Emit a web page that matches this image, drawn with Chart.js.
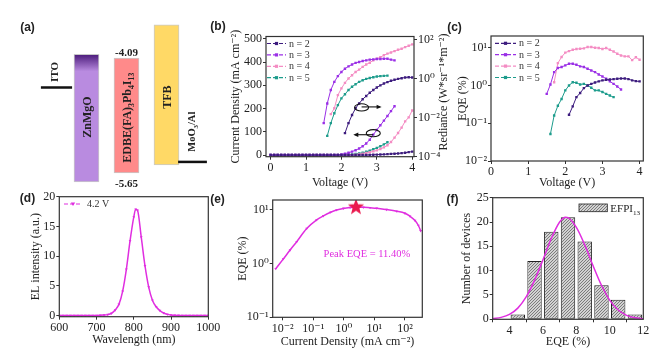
<!DOCTYPE html>
<html><head><meta charset="utf-8">
<script src="https://cdn.jsdelivr.net/npm/chart.js@4.4.1/dist/chart.umd.min.js"></script>
<style>
html,body{margin:0;padding:0;background:#fff;}
body{position:relative;width:662px;height:351px;overflow:hidden;}
canvas{position:absolute;display:block;}
</style></head><body>
<canvas id="ca" width="215" height="190" style="left:0px;top:0px;width:215px;height:190px"></canvas>
<canvas id="cb" width="255" height="195" style="left:200px;top:0px;width:255px;height:195px"></canvas>
<canvas id="cc" width="222" height="195" style="left:440px;top:0px;width:222px;height:195px"></canvas>
<canvas id="cd" width="230" height="161" style="left:0px;top:190px;width:230px;height:161px"></canvas>
<canvas id="ce" width="250" height="161" style="left:205px;top:190px;width:250px;height:161px"></canvas>
<canvas id="cf" width="232" height="161" style="left:430px;top:190px;width:232px;height:161px"></canvas>
<script>
// ---------------- DATA ----------------
// (a) energy levels (eV)
const layerNames = ['ZnMgO', 'EDBE(FA)3Pb4I13', 'TFB'];
const layerTop = [-4.04, -4.09, -3.64];
const layerBottom = [-5.77, -5.65, -5.54];
const electrodeNames = ['ITO', 'MoO3/Al'];
const electrodeLevel = [-4.49, -5.50];

// (b),(c) series
const seriesNames = ['n = 2', 'n = 3', 'n = 4', 'n = 5'];
const vJ = [0.0,0.1,0.2,0.3,0.4,0.5,0.6,0.7,0.8,0.9,1.0,1.1,1.2,1.3,1.4,1.5,1.6,1.7,1.8,1.9,2.0,2.1,2.2,2.3,2.4,2.5,2.6,2.7,2.8,2.9,3.0,3.1,3.2,3.3,3.4,3.5,3.6,3.7,3.8,3.9,4.0];
const jN2 = [0,0,0,0,0,0,0,0,0,0,0,0,0,0,0,0,0,0,0,0,0,0,0,0,0,0,0,0,1,1.5,2,2.5,3,4,5,6,7,8.5,10,12.5,15];
const jN3 = [0,0,0,0,0,0,0,0,0,0,0,0,0,0,0,0,0,0,0,0,3,6,10,15,21,28,38,50,66,88,108,128,148,168,189,210];
const jN4 = [0,0,0,0,0,0,0,0,0,0,0,0,0,0,0,0,0,0,0,0,0,0,0,1,2,4,6,9,12,16,20,26,33,42,56,75,95,118,145,162,192];
const jN5 = [0,0,0,0,0,0,0,0,0,0,0,0,0,0,0,0,0,0,0,0,0,0,2,3,5,7,10,14,19,25,31,38,46,55];

const vN2 = [2.1,2.2,2.3,2.4,2.5,2.6,2.7,2.8,2.9,3.0,3.1,3.2,3.3,3.4,3.5,3.6,3.7,3.8,3.9,4.0];
const vN3 = [1.5,1.6,1.7,1.8,1.9,2.0,2.1,2.2,2.3,2.4,2.5,2.6,2.7,2.8,2.9,3.0,3.1,3.2,3.3,3.4,3.5];
const vN4 = [1.7,1.8,1.9,2.0,2.1,2.2,2.3,2.4,2.5,2.6,2.7,2.8,2.9,3.0,3.1,3.2,3.3,3.4,3.5,3.6,3.7,3.8,3.9,4.0];
const vN5 = [1.6,1.7,1.8,1.9,2.0,2.1,2.2,2.3,2.4,2.5,2.6,2.7,2.8,2.9,3.0,3.1,3.2,3.3];

// radiance (W sr-1 m-2)
const rN2 = [0.0016,0.0052,0.0135,0.030,0.053,0.087,0.127,0.186,0.258,0.348,0.445,0.553,0.652,0.768,0.857,0.955,1.04,1.13,1.16,1.13];
const rN3 = [0.0052,0.053,0.26,0.67,1.33,2.17,3.18,4.18,5.2,6.3,7.0,7.8,8.5,9.2,9.5,10.0,10.0,10.3,10.3,9.2,8.5];
const rN4 = [0.015,0.030,0.141,0.312,0.60,1.01,1.48,2.17,2.85,3.96,5.2,6.46,8.5,10.3,12.4,15.5,18.7,21.5,25.3,29.8,33.3,40.3,47.4,55.8];
const rN5 = [0.00116,0.0052,0.0168,0.0436,0.0964,0.157,0.258,0.378,0.51,0.67,0.81,0.955,1.07,1.16,1.26,1.33,1.36,1.40];

// EQE (%) vs voltage
const eN2 = [0.167,0.28,0.49,0.63,0.85,1.0,1.1,1.2,1.28,1.36,1.41,1.44,1.47,1.5,1.53,1.53,1.47,1.36,1.3,1.28];
const eN3 = [0.6,1.06,2.26,2.9,3.07,3.4,3.76,3.76,3.54,3.2,3.07,2.77,2.5,2.26,1.96,1.73,1.5,1.28,1.1,0.94,0.78];
const eN4 = [1.22,3.9,5.66,7.4,8.1,8.8,9.2,9.4,9.6,10.4,10.4,10.0,9.8,9.2,9.8,8.8,7.9,6.9,6.2,5.9,5.9,4.7,5.6,4.8];
const eN5 = [0.052,0.16,0.29,0.44,0.74,1.0,1.22,1.18,1.06,1.1,1.0,0.87,0.74,0.74,0.67,0.6,0.54,0.49];

// (d) EL spectrum
const elLabel = '4.2 V';
const wl = [600,610,620,630,640,650,660,670,680,690,700,710,720,730,740,750,760,770,780,790,800,805,810,820,830,840,850,860,870,880,890,900,910,920,930,940,950,960,970,980,990,1000];
const el = [0.02,0.02,0.02,0.02,0.02,0.02,0.02,0.02,0.03,0.03,0.04,0.06,0.10,0.18,0.40,0.95,1.9,4.1,7.8,12.6,16.6,17.9,17.7,13.2,8.4,4.8,2.6,1.5,0.85,0.45,0.22,0.12,0.07,0.05,0.04,0.03,0.03,0.02,0.02,0.02,0.02,0.02];

// (e) EQE vs current density
const jE = [0.0059,0.0105,0.0174,0.0287,0.061,0.129,0.214,0.37,0.58,0.97,1.6,2.5,4.35,7.2,11.9,25,53.5,100,146,214,276,327];
const eqeE = [0.80,1.22,1.78,2.55,4.47,6.5,7.7,9.0,9.9,10.6,11.0,11.2,11.1,10.9,10.7,10.1,9.4,8.6,7.6,6.3,5.1,4.06];
const peakJ = 2.5;
const peakEQE = 11.40;

// (f) histogram
const histLabel = 'EFPI';
const binCenters = [4.5,5.5,6.5,7.5,8.5,9.5,10.5,11.5];
const counts = [1,12,18,21,16,7,4,1];
const fitX = [3,3.5,4,4.5,5,5.5,6,6.5,7,7.35,7.5,8,8.5,9,9.5,10,10.5,11,11.5,12];
const fitY = [0.15,0.4,1.0,2.3,4.6,8.0,12.2,16.6,20.0,21.0,20.9,18.9,15.3,11.0,7.0,3.9,1.9,0.8,0.3,0.1];

// tick labels
const ticksV = [0,1,2,3,4];
const ticksJ = [0,100,200,300,400,500];
const ticksRad = [1e-4,1e-2,1,100];
const ticksRadLabels = ['10⁻⁴','10⁻²','10⁰','10²'];
const ticksEqeC = [0.01,0.1,1,10];
const ticksEqeCLabels = ['10⁻²','10⁻¹','10⁰','10¹'];
const ticksWl = [600,700,800,900,1000];
const ticksEl = [0,5,10,15,20];
const ticksJE = [0.01,0.1,1,10,100];
const ticksJELabels = ['10⁻²','10⁻¹','10⁰','10¹','10²'];
const ticksEqeE = [0.1,1,10];
const ticksEqeELabels = ['10⁻¹','10⁰','10¹'];
const ticksHistX = [4,6,8,10,12];
const ticksHistY = [0,5,10,15,20,25];

// ---------------- STYLE / HELPERS ----------------
const seriesColors = ['#3d1c7e', '#9a2fe6', '#f48cc3', '#1d9c8c'];
const magenta = '#e02ee0';
const SERIF = "'Liberation Serif', 'DejaVu Serif', serif";
const SANS = "'Liberation Sans', Arial, sans-serif";

Chart.defaults.font.family = SERIF;
Chart.defaults.font.size = 12;
Chart.defaults.color = '#222';
Chart.defaults.animation = false;
Chart.defaults.events = [];
Chart.defaults.responsive = false;
Chart.defaults.plugins.legend.display = false;
Chart.defaults.plugins.tooltip.enabled = false;

function drawRich(ctx, parts, x, y, size, rot, color, weight, family, align) {
  ctx.save();
  ctx.translate(x, y);
  ctx.rotate(rot || 0);
  ctx.fillStyle = color;
  ctx.textBaseline = 'alphabetic';
  const fonts = parts.map(p => `${weight || ''} ${p[1] ? size * 0.65 : size}px ${family}`);
  const widths = parts.map((p, i) => { ctx.font = fonts[i]; return ctx.measureText(p[0]).width; });
  const total = widths.reduce((a, b) => a + b, 0);
  let cx = align === 'left' ? 0 : (align === 'right' ? -total : -total / 2);
  parts.forEach((p, i) => {
    ctx.font = fonts[i];
    const dy = p[1] === 'sub' ? size * 0.28 : (p[1] === 'sup' ? -size * 0.4 : 0);
    ctx.fillText(p[0], cx, size * 0.35 + dy);
    cx += widths[i];
  });
  ctx.restore();
}

const framePlugin = {
  id: 'frame',
  afterDatasetsDraw(chart, args, o) {
    const {ctx, chartArea: a} = chart;
    ctx.save();
    ctx.strokeStyle = '#333';
    ctx.lineWidth = 1.2;
    ctx.strokeRect(a.left, a.top, a.right - a.left, a.bottom - a.top);
    ctx.restore();
  }
};

const textPlugin = {
  id: 'texts',
  afterDraw(chart, args, o) {
    if (!o || !o.items) return;
    const ctx = chart.ctx;
    o.items.forEach(it => {
      let x = it.x, y = it.y;
      if (it.data) {
        x = chart.scales[it.xAxis || 'x'].getPixelForValue(it.x) + (it.dx || 0);
        y = chart.scales[it.yAxis || 'y'].getPixelForValue(it.y) + (it.dy || 0);
      }
      drawRich(ctx, it.parts || [[it.text, '']], x, y, it.size || 12, it.rot || 0,
        it.color || '#222', it.weight || '', it.family || SERIF, it.align || 'center');
    });
  }
};

const lineLegend = {
  id: 'lineLegend',
  afterDraw(chart, args, o) {
    if (!o || !o.items) return;
    const {ctx, chartArea: a} = chart;
    ctx.save();
    o.items.forEach((it, i) => {
      const y = a.top + o.dy0 + i * o.dy;
      const x0 = a.left + o.dx0, x1 = x0 + o.len;
      ctx.strokeStyle = it.color; ctx.lineWidth = 1.2;
      ctx.setLineDash([4, 2]);
      ctx.beginPath(); ctx.moveTo(x0, y); ctx.lineTo(x1, y); ctx.stroke();
      ctx.setLineDash([]);
      ctx.fillStyle = it.color;
      const m = (x0 + x1) / 2;
      if (it.marker === 'tri') {
        ctx.beginPath(); ctx.moveTo(m - 2.2, y - 1.5); ctx.lineTo(m + 2.2, y - 1.5); ctx.lineTo(m, y + 2); ctx.closePath(); ctx.fill();
      } else {
        ctx.fillRect(m - 1.6, y - 1.6, 3.2, 3.2);
      }
      ctx.fillStyle = '#333';
      ctx.font = `${o.size}px ${SERIF}`;
      ctx.textBaseline = 'middle';
      ctx.fillText(it.text, x1 + o.gap, y + 0.5);
    });
    ctx.restore();
  }
};

const ellipsePlugin = {
  id: 'ellipses',
  afterDatasetsDraw(chart, args, o) {
    if (!o || !o.items) return;
    const ctx = chart.ctx;
    ctx.save();
    ctx.strokeStyle = '#111'; ctx.fillStyle = '#111'; ctx.lineWidth = 1.1;
    o.items.forEach(it => {
      const x = chart.scales.x.getPixelForValue(it.x);
      const y = chart.scales.y.getPixelForValue(it.y);
      ctx.beginPath(); ctx.ellipse(x, y, 7, 3.6, 0, 0, Math.PI * 2); ctx.stroke();
      const xe = x + it.dir * 18;
      const ya = y + (it.dir < 0 ? 1.5 : -0.5);
      ctx.beginPath(); ctx.moveTo(x, ya); ctx.lineTo(xe, ya); ctx.stroke();
      ctx.beginPath(); ctx.moveTo(xe + it.dir * 2, ya); ctx.lineTo(xe - it.dir * 3, ya - 2.2); ctx.lineTo(xe - it.dir * 3, ya + 2.2); ctx.closePath(); ctx.fill();
    });
    ctx.restore();
  }
};

const boxLegend = {
  id: 'boxLegend',
  afterDraw(chart, args, o) {
    if (!o || !o.text) return;
    const {ctx, chartArea: a} = chart;
    const x = a.left + o.dx, y = a.top + o.dy;
    ctx.save();
    ctx.fillStyle = o.fill; ctx.fillRect(x, y, o.w, o.h);
    ctx.strokeStyle = '#222'; ctx.lineWidth = 0.8; ctx.strokeRect(x, y, o.w, o.h);
    ctx.restore();
    drawRich(ctx, [[o.text, ''], [o.sub, 'sub']], x + o.w + 3, y + o.h / 2, 11, 0, '#222', '', SERIF, 'left');
  }
};

Chart.register(framePlugin, textPlugin, lineLegend, ellipsePlugin, boxLegend);

function axis(o) {
  const horiz = o.position === 'bottom' || o.position === 'top';
  return {
    type: o.type || 'linear', position: o.position, min: o.min, max: o.max, bounds: 'data',
    display: true,
    grid: {display: true, drawOnChartArea: false, drawTicks: true, tickLength: 3, color: '#333', lineWidth: 1},
    border: {display: false},
    ticks: {autoSkip: false, maxRotation: 0, padding: 1, font: {size: 12, family: SERIF}, color: '#222',
      callback: (v, i) => (o.labels ? o.labels[i] : String(o.ticks[i]))},
    afterBuildTicks: s => { s.ticks = o.ticks.map(v => ({value: v})); },
    afterFit: s => {
      if (horiz) s.height = o.size; else s.width = o.size;
      s.paddingTop = 0; s.paddingBottom = 0; s.paddingLeft = 0; s.paddingRight = 0;
    },
    title: o.title ? {display: true, text: o.title, color: '#222', font: {size: 12, family: SERIF},
      padding: horiz ? {top: 0, bottom: o.tpad} : {top: o.tpad, bottom: 0}} : {display: false}
  };
}
const pts = (xs, ys) => ys.map((y, i) => ({x: xs[i], y: y}));
function seriesDs(xs, ys, k, axisId, extra) {
  return Object.assign({
    type: 'line', data: pts(xs, ys), yAxisID: axisId,
    borderColor: seriesColors[k], backgroundColor: seriesColors[k], borderWidth: 1,
    pointStyle: 'rect', pointRadius: 1.7, pointBorderWidth: 0, tension: 0
  }, extra || {});
}
const legendItems = seriesNames.map((n, k) => ({text: n, color: seriesColors[k]}));

// ---------------- (a) ----------------
const layerColors = ['#b98be0', '#ff8a8a', '#ffd966'];
new Chart(document.getElementById('ca'), {
  type: 'bar',
  data: {
    datasets: [
      {
        type: 'bar', order: 1,
        data: layerNames.map((n, i) => ({x: i + 1, y: [layerBottom[i], layerTop[i]]})),
        barThickness: 25, borderSkipped: false, borderWidth: 1, borderColor: '#c9c9c9',
        backgroundColor: (c) => {
          const ch = c.chart;
          if (c.dataIndex === 0 && ch.chartArea) {
            const top = ch.scales.y.getPixelForValue(layerTop[0]);
            const g = ch.ctx.createLinearGradient(0, top, 0, top + 17);
            g.addColorStop(0, '#4a1a7a'); g.addColorStop(1, layerColors[0]);
            return g;
          }
          return layerColors[c.dataIndex];
        }
      },
      {type: 'line', order: 0, data: [{x: -0.14, y: electrodeLevel[0]}, {x: 0.64, y: electrodeLevel[0]}],
        borderColor: '#111', borderWidth: 2.5, pointRadius: 0},
      {type: 'line', order: 0, data: [{x: 3.29, y: electrodeLevel[1]}, {x: 4.01, y: electrodeLevel[1]}],
        borderColor: '#111', borderWidth: 2.5, pointRadius: 0}
    ]
  },
  options: {
    layout: {padding: 0},
    scales: {
      x: {type: 'linear', min: -1.1625, max: 4.2125, display: false, offset: false},
      y: {type: 'linear', min: -5.881, max: -3.303, display: false}
    },
    plugins: {
      frame: false,
      texts: {items: [
        {text: '(a)', x: 27.5, y: 27, weight: 'bold', family: SANS, size: 12},
        {data: true, x: 1, y: -4.89, text: layerNames[0], rot: -Math.PI / 2, weight: 'bold', size: 12},
        {data: true, x: 2, y: -4.90, parts: [['EDBE(FA)', ''], ['3', 'sub'], ['Pb', ''], ['4', 'sub'], ['I', ''], ['13', 'sub']], rot: -Math.PI / 2, weight: 'bold', size: 12},
        {data: true, x: 3, y: -4.62, text: layerNames[2], rot: -Math.PI / 2, weight: 'bold', size: 12},
        {data: true, x: 0.19, y: -4.28, text: electrodeNames[0], rot: -Math.PI / 2, weight: 'bold', size: 11},
        {data: true, x: 3.61, y: -5.09, parts: [['MoO', ''], ['3', 'sub'], ['/Al', '']], rot: -Math.PI / 2, weight: 'bold', size: 10.5},
        {data: true, x: 2, y: layerTop[1], dy: -6, text: layerTop[1].toFixed(2), weight: 'bold', size: 11},
        {data: true, x: 2, y: layerBottom[1], dy: 10, text: layerBottom[1].toFixed(2), weight: 'bold', size: 11}
      ]}
    }
  }
});

// ---------------- (b) ----------------
new Chart(document.getElementById('cb'), {
  type: 'line',
  data: {
    datasets: [
      seriesDs(vJ, jN2, 0, 'y'), seriesDs(vJ, jN3, 1, 'y'), seriesDs(vJ, jN4, 2, 'y'), seriesDs(vJ, jN5, 3, 'y'),
      seriesDs(vN2, rN2, 0, 'y1'), seriesDs(vN3, rN3, 1, 'y1'), seriesDs(vN4, rN4, 2, 'y1'), seriesDs(vN5, rN5, 3, 'y1')
    ]
  },
  options: {
    layout: {padding: {top: 36.5, left: 0, right: 0, bottom: 0}},
    scales: {
      x: axis({position: 'bottom', min: -0.13, max: 4.05, ticks: ticksV, size: 38.3, title: 'Voltage (V)', tpad: 4.8}),
      y: axis({position: 'left', min: -7, max: 510, ticks: ticksJ, size: 66, title: 'Current Density (mA cm⁻²)', tpad: 29}),
      y1: axis({type: 'logarithmic', position: 'right', min: 1e-4, max: 141, ticks: ticksRad, labels: ticksRadLabels, size: 41})
    },
    plugins: {
      texts: {items: [
        {text: '(b)', x: 18, y: 26, weight: 'bold', family: SANS, size: 12},
        {text: 'Rediance (W*sr⁻¹*m⁻²)', x: 243, y: 92, rot: -Math.PI / 2, size: 12}
      ]},
      lineLegend: {items: legendItems, dx0: 1, len: 19, gap: 3, dy0: 7, dy: 11.4, size: 10},
      ellipses: {items: [{x: 2.57, y: 205, dir: 1}, {x: 2.9, y: 94, dir: -1}]}
    }
  }
});

// ---------------- (c) ----------------
new Chart(document.getElementById('cc'), {
  type: 'line',
  data: {
    datasets: [seriesDs(vN2, eN2, 0, 'y'), seriesDs(vN3, eN3, 1, 'y'), seriesDs(vN4, eN4, 2, 'y'), seriesDs(vN5, eN5, 3, 'y')]
  },
  options: {
    layout: {padding: {top: 36, left: 0, right: 18.7, bottom: 0}},
    scales: {
      x: axis({position: 'bottom', min: 0, max: 4.1, ticks: ticksV, size: 34, title: 'Voltage (V)', tpad: 4.8}),
      y: axis({type: 'logarithmic', position: 'left', min: 0.01, max: 20.4, ticks: ticksEqeC, labels: ticksEqeCLabels, size: 51, title: 'EQE (%)', tpad: 15.8})
    },
    plugins: {
      texts: {items: [{text: '(c)', x: 14.5, y: 27, weight: 'bold', family: SANS, size: 12}]},
      lineLegend: {items: legendItems, dx0: 4, len: 21, gap: 3, dy0: 7.3, dy: 11.4, size: 10}
    }
  }
});

// ---------------- (d) ----------------
new Chart(document.getElementById('cd'), {
  type: 'line',
  data: {
    datasets: [{
      data: pts(wl, el), borderColor: magenta, backgroundColor: magenta, borderWidth: 1.5,
      pointStyle: 'triangle', rotation: 180, pointRadius: 1.6, pointBorderWidth: 0, cubicInterpolationMode: 'monotone'
    }]
  },
  options: {
    layout: {padding: {top: 6.7, left: 0, right: 21.7, bottom: 0}},
    scales: {
      x: axis({position: 'bottom', min: 600, max: 1000, ticks: ticksWl, size: 34.3, title: 'Wavelength (nm)', tpad: 3.8}),
      y: axis({position: 'left', min: -0.17, max: 20, ticks: ticksEl, size: 59.3, title: 'EL intensity (a.u.)', tpad: 28.8})
    },
    plugins: {
      texts: {items: [{text: '(d)', x: 27.5, y: 7.7, weight: 'bold', family: SANS, size: 12}]},
      lineLegend: {items: [{text: elLabel, color: magenta, marker: 'tri'}], dx0: 4.7, len: 18, gap: 5, dy0: 7.3, dy: 11, size: 10}
    }
  }
});

// ---------------- (e) ----------------
const starImg = (() => {
  const c = document.createElement('canvas'); c.width = 20; c.height = 20;
  const g = c.getContext('2d'); g.fillStyle = '#ea1a4e'; g.beginPath();
  for (let i = 0; i < 10; i++) {
    const r = i % 2 === 0 ? 8.5 : 3.6; const a = -Math.PI / 2 + i * Math.PI / 5;
    const px = 10 + r * Math.cos(a), py = 10.5 + r * Math.sin(a);
    if (i === 0) g.moveTo(px, py); else g.lineTo(px, py);
  }
  g.closePath(); g.fill(); return c;
})();
new Chart(document.getElementById('ce'), {
  type: 'line',
  data: {
    datasets: [
      {data: [{x: peakJ, y: peakEQE}], showLine: false, pointStyle: starImg, pointRadius: 9, order: 0},
      {data: pts(jE, eqeE), borderColor: magenta, backgroundColor: magenta, borderWidth: 1.5,
        pointStyle: 'triangle', rotation: 180, pointRadius: 1.6, pointBorderWidth: 0, cubicInterpolationMode: 'monotone', order: 1}
    ]
  },
  options: {
    layout: {padding: {top: 7.7, left: 0, right: 32.7, bottom: 0}},
    scales: {
      x: axis({type: 'logarithmic', position: 'bottom', min: 0.0047, max: 370, ticks: ticksJE, labels: ticksJELabels, size: 33.7, title: 'Current Density (mA cm⁻²)', tpad: 2.1}),
      y: axis({type: 'logarithmic', position: 'left', min: 0.1, max: 15.2, ticks: ticksEqeE, labels: ticksEqeELabels, size: 67.7, title: 'EQE (%)', tpad: 31.1})
    },
    plugins: {
      texts: {items: [
        {text: '(e)', x: 12.5, y: 8.3, weight: 'bold', family: SANS, size: 12},
        {data: true, x: 5.7, y: 1.57, text: 'Peak EQE = ' + peakEQE.toFixed(2) + '%', color: magenta, size: 10.5}
      ]}
    }
  }
});

// ---------------- (f) ----------------
const fCtx = document.getElementById('cf').getContext('2d');
const dotPattern = (() => {
  const c = document.createElement('canvas'); c.width = 3; c.height = 3;
  const g = c.getContext('2d'); g.fillStyle = '#d2d2d2'; g.fillRect(0, 0, 3, 3);
  g.fillStyle = '#7c7c7c'; g.fillRect(0, 0, 1, 1); g.fillRect(2, 1, 1, 1); g.fillRect(1, 2, 1, 1);
  return fCtx.createPattern(c, 'repeat');
})();
new Chart(fCtx, {
  type: 'bar',
  data: {
    datasets: [
      {type: 'line', data: pts(fitX, fitY), borderColor: magenta, borderWidth: 1.5, pointRadius: 0, cubicInterpolationMode: 'monotone', order: 0},
      {type: 'bar', data: pts(binCenters, counts), backgroundColor: dotPattern, borderColor: '#222', borderWidth: 1,
        borderSkipped: false, barPercentage: 0.86, categoryPercentage: 1, order: 1}
    ]
  },
  options: {
    layout: {padding: {top: 7.7, left: 0, right: 18.7, bottom: 0}},
    scales: {
      x: Object.assign(axis({position: 'bottom', min: 3, max: 12, ticks: ticksHistX, size: 31.7, title: 'EQE (%)', tpad: 1.8}), {offset: false}),
      y: axis({position: 'left', min: 0, max: 25, ticks: ticksHistY, size: 62.7, title: 'Number of devices', tpad: 29.5})
    },
    plugins: {
      texts: {items: [{text: '(f)', x: 22.5, y: 9, weight: 'bold', family: SANS, size: 12}]},
      boxLegend: {text: histLabel, sub: '13', dx: 86.3, dy: 6.3, w: 28.3, h: 7.7, fill: dotPattern}
    }
  }
});
</script></body></html>
